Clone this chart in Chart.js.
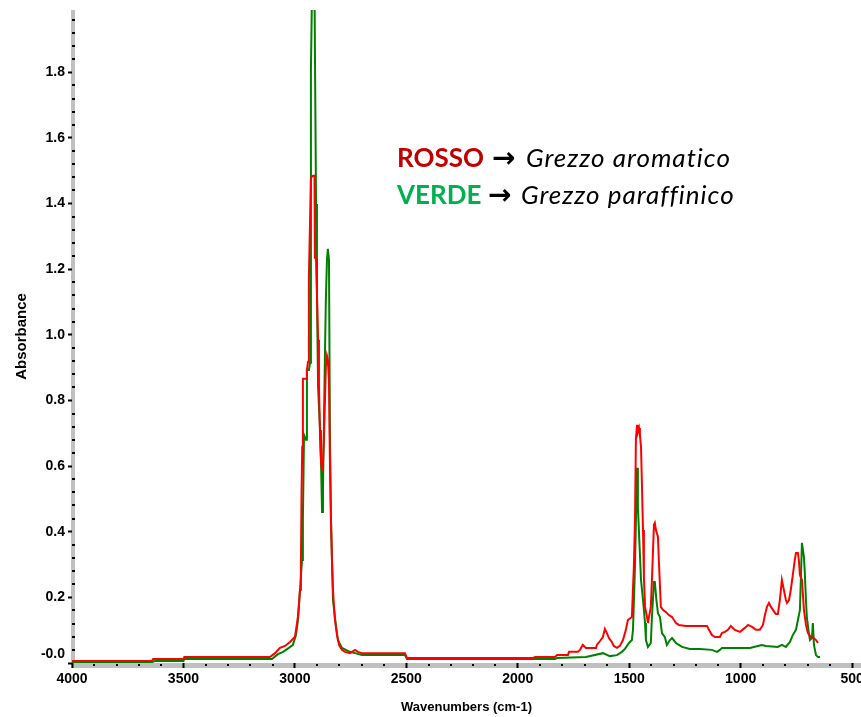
<!DOCTYPE html>
<html>
<head>
<meta charset="utf-8">
<script src="https://cdn.jsdelivr.net/npm/chart.js@4.4.1/dist/chart.umd.min.js"></script>
<style>
  html, body { margin: 0; padding: 0; background: #fff; }
  canvas { display: block; }
</style>
</head>
<body>
<canvas id="spectrum" width="861" height="717"></canvas>
<script>
// IR spectra of two crude oils: wavenumber (cm-1) and absorbance
const redWavenumber = [4000,3640,3636,3500,3496,3112,3089,3067,3044,3022,3000,2995,2986,2977,2973,2970,2967,2964,2950,2946,2941,2937,2928,2919,2912,2910,2905,2901,2896,2892,2887,2883,2878,2874,2870,2865,2861,2856,2852,2847,2843,2838,2834,2829,2825,2820,2811,2802,2789,2775,2753,2730,2717,2699,2506,2497,1932,1923,1833,1824,1775,1770,1730,1721,1708,1694,1649,1645,1631,1618,1609,1600,1591,1578,1569,1555,1542,1528,1515,1506,1488,1479,1474,1470,1465,1461,1456,1452,1447,1438,1434,1429,1420,1416,1403,1398,1389,1385,1380,1371,1367,1358,1349,1335,1322,1308,1299,1290,1277,1246,1151,1142,1129,1115,1093,1084,1071,1057,1044,1026,1003,981,967,949,931,914,900,891,882,873,864,855,842,833,824,815,806,797,792,783,775,766,757,752,743,739,734,725,716,707,698,685,671,662,653];
const redAbsorbance = [0.006,0.006,0.012,0.012,0.018,0.018,0.030,0.046,0.052,0.064,0.079,0.101,0.143,0.223,0.299,0.520,0.659,0.866,0.866,0.893,0.918,1.180,1.479,1.485,1.485,1.235,1.235,1.128,0.985,0.848,0.689,0.619,0.588,0.610,0.680,0.802,0.902,0.936,0.924,0.863,0.619,0.436,0.323,0.223,0.177,0.131,0.085,0.055,0.040,0.034,0.030,0.040,0.034,0.030,0.030,0.015,0.015,0.018,0.018,0.024,0.024,0.034,0.034,0.040,0.055,0.046,0.046,0.055,0.067,0.079,0.104,0.091,0.076,0.064,0.052,0.046,0.052,0.070,0.101,0.131,0.140,0.296,0.436,0.680,0.726,0.704,0.716,0.695,0.659,0.405,0.262,0.171,0.140,0.122,0.171,0.253,0.421,0.427,0.405,0.384,0.314,0.171,0.162,0.155,0.146,0.140,0.131,0.122,0.116,0.113,0.113,0.101,0.085,0.079,0.079,0.091,0.095,0.101,0.113,0.101,0.095,0.107,0.116,0.110,0.101,0.101,0.116,0.146,0.171,0.183,0.171,0.162,0.149,0.149,0.192,0.253,0.223,0.192,0.183,0.192,0.223,0.268,0.314,0.335,0.335,0.314,0.268,0.253,0.162,0.116,0.091,0.079,0.076,0.070,0.061];

const greenWavenumber = [4000,3640,3628,3500,3496,3103,3076,3053,3027,3009,2995,2986,2977,2968,2964,2959,2950,2946,2937,2932,2928,2923,2912,2905,2901,2896,2887,2883,2878,2874,2870,2865,2861,2856,2852,2847,2843,2838,2829,2820,2807,2789,2753,2730,2699,2506,2497,1833,1824,1694,1618,1587,1555,1533,1519,1501,1488,1483,1474,1465,1461,1456,1447,1438,1429,1425,1416,1403,1398,1389,1385,1378,1371,1362,1353,1340,1331,1317,1308,1290,1277,1263,1228,1183,1129,1106,1093,1084,958,905,887,833,815,797,779,766,752,743,734,725,716,712,707,703,694,689,680,676,671,662,653,644];
const greenAbsorbance = [0.003,0.003,0.006,0.006,0.012,0.012,0.027,0.034,0.046,0.055,0.085,0.131,0.223,0.314,0.436,0.695,0.680,0.893,0.893,0.915,1.808,2.050,2.050,1.399,1.128,0.841,0.710,0.619,0.460,0.527,0.710,0.945,1.107,1.229,1.262,1.229,0.710,0.436,0.192,0.137,0.070,0.046,0.034,0.030,0.024,0.024,0.012,0.012,0.015,0.018,0.030,0.021,0.024,0.034,0.043,0.061,0.070,0.101,0.296,0.595,0.476,0.396,0.253,0.192,0.122,0.070,0.049,0.061,0.140,0.247,0.247,0.192,0.152,0.140,0.091,0.079,0.055,0.070,0.076,0.061,0.055,0.049,0.043,0.043,0.040,0.034,0.040,0.046,0.046,0.055,0.052,0.049,0.055,0.049,0.064,0.085,0.101,0.131,0.162,0.366,0.323,0.274,0.192,0.140,0.091,0.070,0.076,0.122,0.055,0.024,0.018,0.018];

// Axis tick labels
const xLabelValues = [4000, 3500, 3000, 2500, 2000, 1500, 1000, 500];
const yLabelValues = [0, 0.2, 0.4, 0.6, 0.8, 1.0, 1.2, 1.4, 1.6, 1.8];
const yLabelTexts  = ['-0.0', '0.2', '0.4', '0.6', '0.8', '1.0', '1.2', '1.4', '1.6', '1.8'];

// Key text
const keyNames = ['ROSSO', 'VERDE'];
const keyDescriptions = ['Grezzo aromatico', 'Grezzo paraffinico'];

const toPoints = (xs, ys) => xs.map((v, i) => ({ x: v, y: ys[i] }));
const near = (a, b) => Math.abs(a - b) < 1e-6;
const yLabelIndex = v => yLabelValues.findIndex(m => near(m, v));
const isXMajor = v => xLabelValues.some(m => near(m, v));
const isYMajor = v => yLabelIndex(v) >= 0;

const TICK_FONT = { family: '"Liberation Sans", Arial, sans-serif', size: 14, weight: 'bold' };

// Gray axis bands with small minor tick marks on them
const axisBands = {
  id: 'axisBands',
  beforeDraw(chart) {
    const { ctx, chartArea: { left, right, top, bottom }, scales: { x, y } } = chart;
    ctx.save();
    ctx.fillStyle = '#c0c0c0';
    ctx.fillRect(left - 1, top, 4, bottom + 5 - top);
    ctx.fillRect(left - 1, bottom, right - left + 1, 5);
    ctx.fillStyle = '#000';
    y.ticks.forEach(t => {
      if (isYMajor(t.value) || t.value > 1.97) return;
      const py = Math.round(y.getPixelForValue(t.value));
      ctx.fillRect(left, py - 1, 3, 2);
    });
    x.ticks.forEach(t => {
      if (isXMajor(t.value)) return;
      const px = Math.round(x.getPixelForValue(t.value));
      ctx.fillRect(px - 1, bottom + 1, 2, 2);
    });
    ctx.restore();
  }
};

// Colour key in the upper right of the plot
const colourKey = {
  id: 'colourKey',
  afterDraw(chart) {
    const { ctx } = chart;
    const rows = [
      { y: 167, nameColor: '#c00000', arrowX: 492, textX: 526 },
      { y: 204, nameColor: '#00b050', arrowX: 488, textX: 521 }
    ];
    ctx.save();
    ctx.textBaseline = 'alphabetic';
    ctx.textAlign = 'left';
    rows.forEach((r, i) => {
      ctx.letterSpacing = '0px';
      ctx.font = 'bold 26px Lato, "Open Sans", sans-serif';
      ctx.fillStyle = r.nameColor;
      ctx.fillText(keyNames[i], 397, r.y);
      ctx.fillStyle = '#000';
      ctx.font = 'bold 28px "DejaVu Sans", sans-serif';
      ctx.fillText('\u2192', r.arrowX, r.y);
      ctx.font = 'italic 26px Lato, "Open Sans", sans-serif';
      ctx.letterSpacing = '1px';
      ctx.fillText(keyDescriptions[i], r.textX, r.y);
    });
    ctx.restore();
  }
};

new Chart(document.getElementById('spectrum'), {
  type: 'line',
  data: {
    datasets: [
      {
        label: 'Grezzo aromatico',
        data: toPoints(redWavenumber, redAbsorbance),
        borderColor: '#ff0000',
        borderWidth: 2,
        pointRadius: 0,
        tension: 0,
        fill: false
      },
      {
        label: 'Grezzo paraffinico',
        data: toPoints(greenWavenumber, greenAbsorbance),
        borderColor: '#008000',
        borderWidth: 2,
        pointRadius: 0,
        tension: 0,
        fill: false
      }
    ]
  },
  options: {
    responsive: false,
    animation: false,
    devicePixelRatio: 1,
    layout: { padding: { top: 10, right: 0, left: 0, bottom: 0 } },
    plugins: { legend: { display: false }, tooltip: { enabled: false } },
    scales: {
      x: {
        type: 'linear',
        reverse: true,
        min: 460,
        max: 4000,
        afterBuildTicks(scale) {
          const t = [];
          for (let v = 500; v <= 4000; v += 100) t.push({ value: v });
          scale.ticks = t;
        },
        afterFit(scale) {
          scale.height = 54;
          scale.paddingLeft = 0;
          scale.paddingRight = 0;
        },
        ticks: {
          autoSkip: false,
          maxRotation: 0,
          padding: 3,
          color: '#000',
          font: TICK_FONT,
          callback: v => (isXMajor(v) ? String(v) : '')
        },
        grid: {
          display: true,
          drawOnChartArea: false,
          drawTicks: true,
          tickLength: 5,
          tickWidth: 2,
          tickColor: ctx => (ctx.tick && isXMajor(ctx.tick.value) ? '#000' : 'rgba(0,0,0,0)')
        },
        border: { display: false },
        title: {
          display: true,
          text: 'Wavenumbers (cm-1)',
          color: '#000',
          font: { family: '"Liberation Sans", Arial, sans-serif', size: 13, weight: 'bold' },
          padding: { top: 0, bottom: 2 }
        }
      },
      y: {
        type: 'linear',
        min: 0,
        max: 1.99,
        afterBuildTicks(scale) {
          const t = [];
          for (let i = 0; i <= 49; i++) t.push({ value: Math.round(i * 4) / 100 });
          scale.ticks = t;
        },
        afterFit(scale) {
          scale.width = 72;
          scale.paddingTop = 0;
          scale.paddingBottom = 0;
        },
        ticks: {
          autoSkip: false,
          padding: 3,
          color: '#000',
          font: TICK_FONT,
          callback: v => {
            const i = yLabelIndex(v);
            if (i < 0) return '';
            // the zero label sits just above the horizontal axis band
            return i === 0 ? [yLabelTexts[i], ''] : yLabelTexts[i];
          }
        },
        grid: {
          display: true,
          drawOnChartArea: false,
          drawTicks: true,
          tickLength: 4,
          tickWidth: 2,
          tickColor: ctx => (ctx.tick && isYMajor(ctx.tick.value) ? '#000' : 'rgba(0,0,0,0)')
        },
        border: { display: false },
        title: {
          display: true,
          text: 'Absorbance',
          color: '#000',
          font: { family: '"Liberation Sans", Arial, sans-serif', size: 15, weight: 'bold' },
          padding: { top: 13, bottom: 0 }
        }
      }
    }
  },
  plugins: [axisBands, colourKey]
});
</script>
</body>
</html>
